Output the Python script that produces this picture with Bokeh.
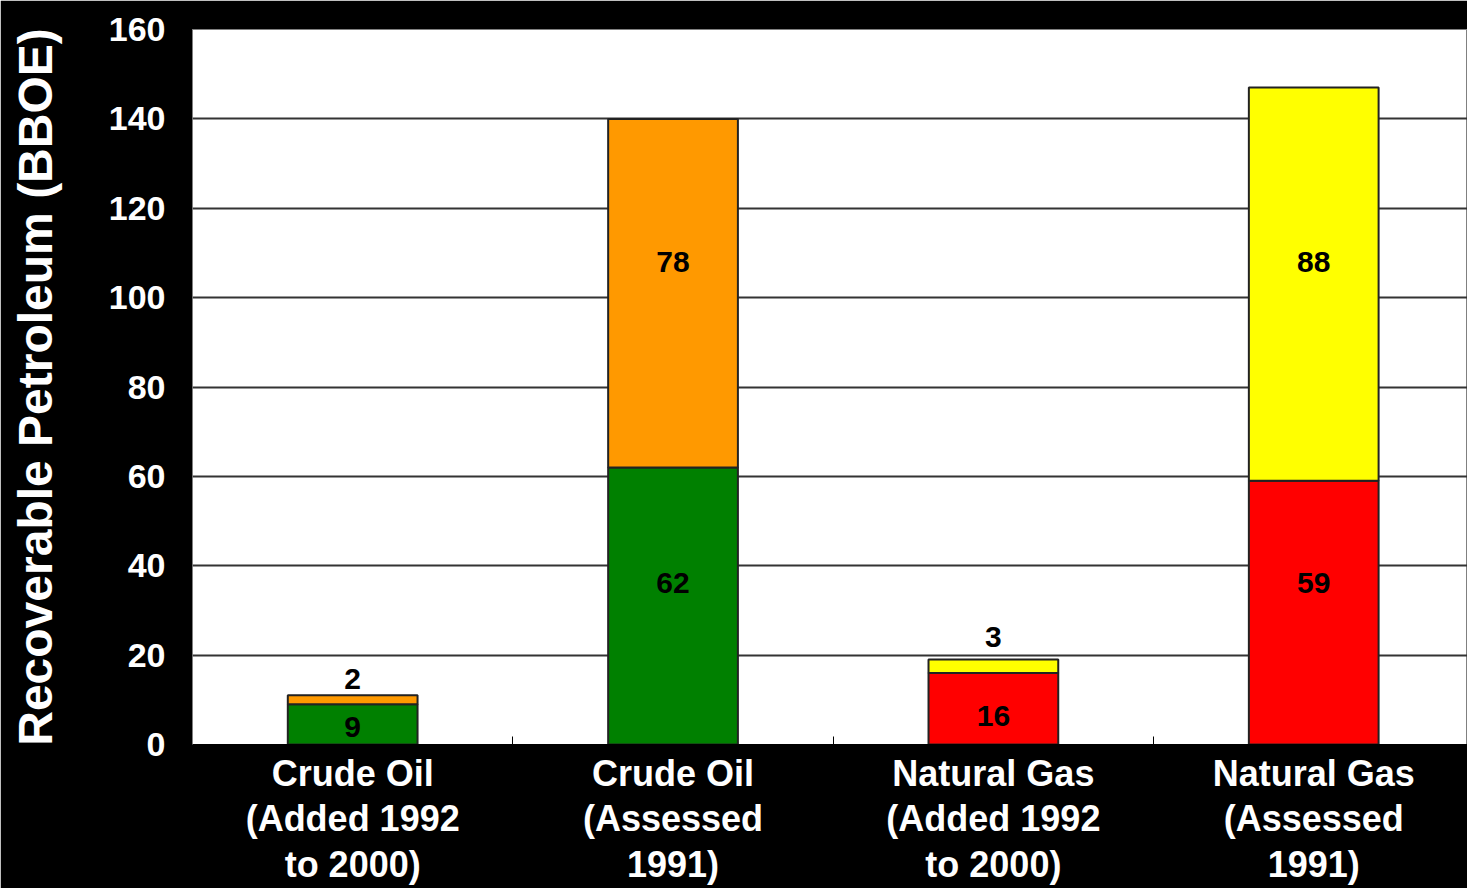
from bokeh.plotting import figure
from bokeh.models import Range1d, FixedTicker, ColumnDataSource
from bokeh.core.properties import value
from bokeh.embed import file_html
from bokeh.resources import INLINE

# Recoverable petroleum, billions of barrels of oil equivalent
categories = [
    "Crude Oil\n(Added 1992\nto 2000)",
    "Crude Oil\n(Assessed\n1991)",
    "Natural Gas\n(Added 1992\nto 2000)",
    "Natural Gas\n(Assessed\n1991)",
]
lower_values = [9, 62, 16, 59]
upper_values = [2, 78, 3, 88]
lower_colors = ["#008000", "#008000", "#FF0000", "#FF0000"]
upper_colors = ["#FF9900", "#FF9900", "#FFFF00", "#FFFF00"]
y_ticks = [0, 20, 40, 60, 80, 100, 120, 140, 160]

# vertical anchors (data units) for the value annotations
lower_label_y = [4.0, 36.2, 6.3, 36.2]
upper_label_y = [14.7, 107.9, 24.1, 107.9]

FONT = "Liberation Sans"

x_pos = [i + 0.5 for i in range(len(categories))]
upper_tops = [lo + up for lo, up in zip(lower_values, upper_values)]

src = ColumnDataSource(dict(
    x=x_pos,
    lower=lower_values,
    upper_top=upper_tops,
    lower_color=lower_colors,
    upper_color=upper_colors,
    lower_text=[str(v) for v in lower_values],
    upper_text=[str(v) for v in upper_values],
    lower_label_y=lower_label_y,
    upper_label_y=upper_label_y,
))

p = figure(
    width=1467, height=888,
    x_range=Range1d(0, 3.98), y_range=Range1d(0, 160),
    output_backend="svg", toolbar_location=None,
    min_border_left=192, min_border_right=0,
    min_border_top=29, min_border_bottom=143,
    background_fill_color="white", border_fill_color="black",
)
p.outline_line_color = "#808080"
p.outline_line_width = 1

p.vbar(x="x", bottom=0, top="lower", width=0.405, source=src,
       fill_color="lower_color", line_color="#222222", line_width=2)
p.vbar(x="x", bottom="lower", top="upper_top", width=0.405, source=src,
       fill_color="upper_color", line_color="#222222", line_width=2)

for col_y, col_t in (("lower_label_y", "lower_text"), ("upper_label_y", "upper_text")):
    p.text(x="x", y=col_y, text=col_t, source=src,
           text_align="center", text_baseline="middle",
           text_font=value(FONT), text_font_style="bold",
           text_font_size="30px", text_color="black")

# grid
p.xgrid.grid_line_color = None
p.ygrid.ticker = FixedTicker(ticks=y_ticks)
p.ygrid.grid_line_color = "#333333"
p.ygrid.grid_line_width = 2

# y axis
p.yaxis.ticker = FixedTicker(ticks=y_ticks)
p.yaxis.axis_label = "Recoverable Petroleum (BBOE)"
p.yaxis.axis_label_text_font = FONT
p.yaxis.axis_label_text_font_style = "bold"
p.yaxis.axis_label_text_font_size = "48px"
p.yaxis.axis_label_text_color = "white"
p.yaxis.axis_label_standoff = 44
p.yaxis.major_label_text_font = FONT
p.yaxis.major_label_text_font_style = "bold"
p.yaxis.major_label_text_font_size = "34px"
p.yaxis.major_label_text_color = "white"
p.yaxis.major_label_standoff = 27
p.yaxis.axis_line_color = None
p.yaxis.major_tick_line_color = None
p.yaxis.major_tick_out = 0
p.yaxis.major_tick_in = 0
p.yaxis.minor_tick_line_color = None
p.yaxis.minor_tick_out = 0

# x axis: labels at bar centres, small inward ticks between categories
p.xaxis.ticker = FixedTicker(ticks=x_pos, minor_ticks=[1, 2, 3])
p.xaxis.major_label_overrides = {x: c for x, c in zip(x_pos, categories)}
p.xaxis.major_label_text_font = FONT
p.xaxis.major_label_text_font_style = "bold"
p.xaxis.major_label_text_font_size = "36px"
p.xaxis.major_label_text_color = "white"
p.xaxis.major_label_text_line_height = 1.12
p.xaxis.major_label_standoff = 2
p.xaxis.major_tick_line_color = None
p.xaxis.minor_tick_line_color = "black"
p.xaxis.minor_tick_in = 8
p.xaxis.minor_tick_out = 0
p.xaxis.axis_line_color = "black"

open("out.html", "w").write(file_html(p, INLINE))
